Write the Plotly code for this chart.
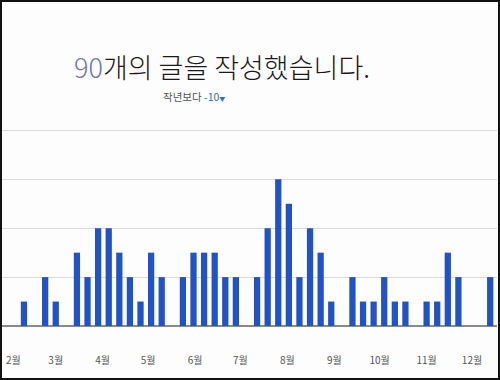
import pandas as pd
import plotly.graph_objects as go

# Weekly post counts (weeks starting 2015-02-08)
week_start = "2015-02-08"
counts = [1, 0, 2, 1, 0, 3, 2, 4, 4, 3, 2, 1, 3, 2, 0, 2, 3, 3, 3, 2, 2, 0,
          2, 4, 6, 5, 2, 4, 3, 1, 0, 2, 1, 1, 2, 1, 1, 0, 1, 1, 3, 2, 0, 0, 2]
weeks = pd.date_range(week_start, periods=len(counts), freq="7D")

total_text = "90"
title_rest = "개의 글을 작성했습니다."
compare_label = "작년보다"
compare_value = "-10"

FONT = "Noto Sans CJK KR"
W, H = 500, 380
L, R, T, B = 2, 3, 128, 54
pw, ph = W - L - R, H - T - B

fig = go.Figure()
fig.add_trace(go.Bar(x=weeks, y=counts, marker=dict(color="#2153C5", line=dict(width=0)),
                     hoverinfo="x+y"))

fig.update_layout(
    width=W, height=H,
    margin=dict(l=L, r=R, t=T, b=B, autoexpand=False),
    paper_bgcolor="#fdfdfd", plot_bgcolor="#fdfdfd",
    bargap=0.41, showlegend=False,
    font=dict(family=FONT, color="#444"),
    xaxis=dict(
        type="date", automargin=False,
        range=["2015-01-24 12:00", "2015-12-17 12:00"],
        tick0="2015-02-01", dtick="M1", tickformat="%-m월",
        showgrid=False, zeroline=False, showline=False, ticks="",
        ticklabelstandoff=27,
        tickfont=dict(family=FONT, size=10, color="#555"),
    ),
    yaxis=dict(
        range=[0, 8.1], dtick=2, showticklabels=False, automargin=False,
        showgrid=True, gridcolor="#dcdcdc", gridwidth=1,
        zeroline=True, zerolinecolor="#8a8a8a", zerolinewidth=2,
        showline=False,
    ),
    annotations=[
        dict(
            text=f"<span style='color:#6b78a8'>{total_text}</span>{title_rest}",
            xref="paper", yref="paper",
            x=(222 - L) / pw, y=1 + (T - 66) / ph,
            xanchor="center", yanchor="middle", showarrow=False,
            font=dict(family=FONT, size=27, color="#1a1a1a", weight=300),
        ),
        dict(
            text=f"{compare_label} <span style='color:#2f6fd0'>{compare_value}</span>"
                 f"<span style='color:#2f6fd0;font-size:6px'>▼</span>",
            xref="paper", yref="paper",
            x=(161 - L) / pw, y=1 + (T - 96) / ph,
            xanchor="left", yanchor="middle", showarrow=False,
            font=dict(family=FONT, size=10.5, color="#555"),
        ),
    ],
    shapes=[
        dict(type="rect", xref="paper", yref="paper",
             x0=-(L - 1) / pw, x1=1 + (R - 1) / pw,
             y0=-(B - 1) / ph, y1=1 + (T - 1) / ph,
             line=dict(color="#111", width=2), fillcolor="rgba(0,0,0,0)", layer="above"),
    ],
)

fig.write_html("out.html", config={"displayModeBar": False},
               post_script="document.body.style.margin='0';document.body.style.padding='0';")
